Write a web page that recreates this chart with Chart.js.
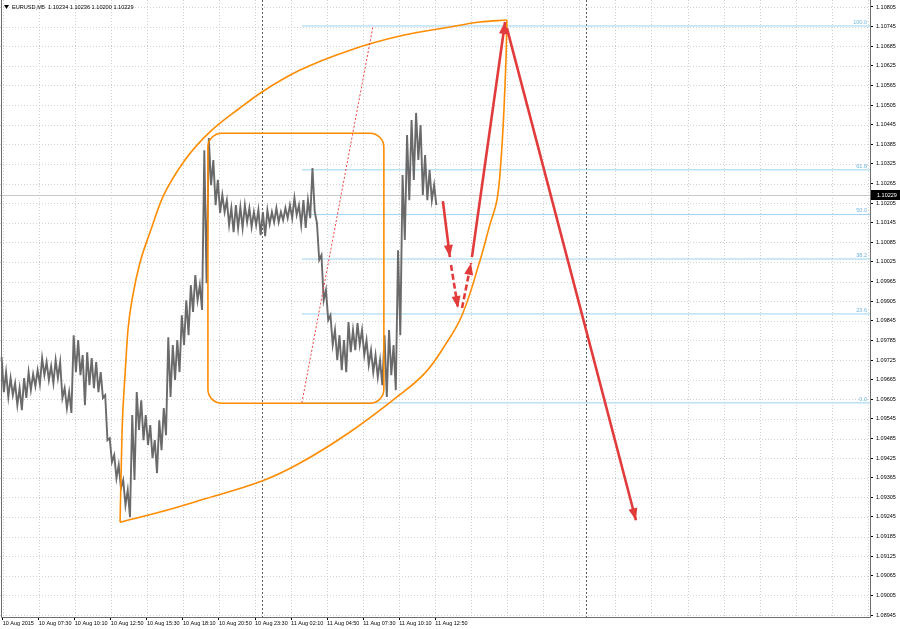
<!DOCTYPE html>
<html>
<head>
<meta charset="utf-8">
<script src="https://cdn.jsdelivr.net/npm/chart.js@4.4.1/dist/chart.umd.min.js"></script>
<style>
  html, body { margin: 0; padding: 0; background: #fff; }
  #wrap { width: 900px; height: 629px; position: relative; }
</style>
</head>
<body>
<div id="wrap"><canvas id="chart"></canvas></div>
<script>
// EURUSD M5, 10-11 Aug 2015. time = minutes since 10 Aug 2015 00:00
const symbolTitle = "EURUSD,M5";
const ohlc = [1.10234, 1.10236, 1.10200, 1.10229];
const bidPrice = 1.10229;

const startTime = 290; // 10 Aug 04:50
const barStep = 20;    // one sample per 20 minutes

const highs = [
  1.09734, 1.09688, 1.09670, 1.09654, 1.09639, 1.09670, 1.09688, 1.09682, 1.09694, 1.09731,
  1.09719, 1.09706, 1.09725, 1.09719, 1.09639, 1.09627, 1.09801, 1.09786, 1.09740, 1.09749,
  1.09731, 1.09719, 1.09688, 1.09618, 1.09486, 1.09434, 1.09404, 1.09358, 1.09327, 1.09557,
  1.09627, 1.09602, 1.09557, 1.09526, 1.09480, 1.09541, 1.09578, 1.09795, 1.09771, 1.09786,
  1.09862, 1.09908, 1.09954, 1.09985, 1.09954, 1.10367, 1.10404, 1.10337, 1.10276, 1.10230,
  1.10214, 1.10190, 1.10199, 1.10193, 1.10199, 1.10190, 1.10178, 1.10184, 1.10178, 1.10184,
  1.10178, 1.10190, 1.10178, 1.10190, 1.10199, 1.10221, 1.10199, 1.10214, 1.10214, 1.10312,
  1.10144, 1.10046, 1.09939, 1.09862, 1.09817, 1.09801, 1.09786, 1.09841, 1.09817, 1.09838,
  1.09817, 1.09786, 1.09755, 1.09740, 1.09725, 1.09801, 1.09817, 1.09771, 1.10061, 1.10291,
  1.10413, 1.10459, 1.10481, 1.10444, 1.10352, 1.10306, 1.10260
];
const lows = [
  1.09627, 1.09612, 1.09618, 1.09587, 1.09572, 1.09609, 1.09633, 1.09645, 1.09651, 1.09679,
  1.09664, 1.09654, 1.09670, 1.09609, 1.09578, 1.09563, 1.09688, 1.09679, 1.09587, 1.09648,
  1.09639, 1.09627, 1.09609, 1.09480, 1.09413, 1.09364, 1.09333, 1.09281, 1.09244, 1.09358,
  1.09511, 1.09480, 1.09465, 1.09425, 1.09379, 1.09449, 1.09495, 1.09612, 1.09664, 1.09688,
  1.09771, 1.09801, 1.09872, 1.09908, 1.09878, 1.09960, 1.10260, 1.10199, 1.10175, 1.10178,
  1.10138, 1.10116, 1.10129, 1.10129, 1.10147, 1.10132, 1.10138, 1.10107, 1.10104, 1.10141,
  1.10147, 1.10147, 1.10153, 1.10159, 1.10159, 1.10169, 1.10138, 1.10129, 1.10159, 1.10180,
  1.10031, 1.09908, 1.09847, 1.09771, 1.09725, 1.09694, 1.09688, 1.09749, 1.09755, 1.09771,
  1.09740, 1.09710, 1.09688, 1.09673, 1.09648, 1.09612, 1.09679, 1.09633, 1.09801, 1.10092,
  1.10214, 1.10276, 1.10337, 1.10230, 1.10214, 1.10214, 1.10199
];

// axis
const xMin = 278, xMax = 4140;
const xTickTimes = [290, 450, 610, 770, 930, 1090, 1250, 1410, 1570, 1730, 1890, 2050, 2210];
const xLabels = ["10 Aug 2015", "10 Aug 07:30", "10 Aug 10:10", "10 Aug 12:50", "10 Aug 15:30",
  "10 Aug 18:10", "10 Aug 20:50", "10 Aug 23:30", "11 Aug 02:10", "11 Aug 04:50",
  "11 Aug 07:30", "11 Aug 10:10", "11 Aug 12:50"];
const gridStep = 160;
const daySeparators = [1440, 2880];
const yMin = 1.08939, yMax = 1.108264;
const yTicks = [1.08945, 1.09005, 1.09065, 1.09125, 1.09185, 1.09245, 1.09305, 1.09365,
  1.09425, 1.09485, 1.09545, 1.09605, 1.09665, 1.09725, 1.09785, 1.09845, 1.09905, 1.09965,
  1.10025, 1.10085, 1.10145, 1.10205, 1.10265, 1.10325, 1.10385, 1.10445, 1.10505, 1.10565,
  1.10625, 1.10685, 1.10745, 1.10805];

// objects drawn on the chart
const upperArcTimes = [811, 820, 833, 846, 868, 899, 944, 1001, 1099, 1210, 1343, 1441, 1610, 1832, 2053, 2275, 2409, 2528];
const upperArcPrices = [1.09229, 1.09511, 1.09679, 1.09817, 1.09924, 1.10022, 1.10116, 1.10224, 1.10337, 1.10423,
  1.10496, 1.10545, 1.10612, 1.10673, 1.10716, 1.10744, 1.10759, 1.10765];
const lowerArcTimes = [811, 988, 1166, 1441, 1610, 1832, 2040, 2164, 2253, 2329, 2409, 2453, 2484, 2502, 2515, 2524, 2528];
const lowerArcPrices = [1.09229, 1.09260, 1.09296, 1.09355, 1.09410, 1.09505, 1.09612, 1.09685, 1.09770, 1.09862,
  1.10030, 1.10140, 1.10214, 1.10337, 1.10490, 1.10643, 1.10765];

const rectTimes = [1201, 1982];
const rectPrices = [1.09593, 1.10419];

const fibTimes = [1618, 1934];
const fibAnchorPrices = [1.09594, 1.10747];
const fibPrices = [1.09594, 1.09866, 1.10034, 1.10170, 1.10307, 1.10747];
const fibLabels = ["0.0", "23.6", "38.2", "50.0", "61.8", "100.0"];

const arrowTimes = [[2244, 2275], [2280, 2311], [2329, 2369], [2373, 2520], [2528, 3101]];
const arrowPrices = [[1.10211, 1.10040], [1.10016, 1.09884], [1.09884, 1.10022], [1.10040, 1.10759], [1.10741, 1.09235]];
const arrowDashed = [false, true, true, false, false];

const FONT = '"Liberation Sans", Arial, sans-serif';
const RED = "#e23b3b";
const ORANGE = "#ff8c00";
const FIB = "#9dd3ef";

function pairs(ts, ps) {
  return ts.map((t, i) => ({ x: t, y: ps[i] }));
}

// each sample is drawn as a high -> low stroke, joined into one jagged line
const pricePoints = [];
highs.forEach((h, i) => {
  const t = startTime + i * barStep;
  pricePoints.push({ x: t - 5, y: h }, { x: t + 5, y: lows[i] });
});

const datasets = [];

fibPrices.forEach((p, i) => {
  datasets.push({
    type: "line",
    label: "fib " + fibLabels[i],
    data: [{ x: fibTimes[0], y: p }, { x: xMax, y: p }],
    borderColor: FIB,
    borderWidth: 1,
    pointRadius: 0,
    order: 6,
  });
});

datasets.push({
  type: "line",
  label: symbolTitle,
  data: pricePoints,
  borderColor: "#6a6a6a",
  borderWidth: 1.9,
  pointRadius: 0,
  tension: 0,
  order: 4,
});

datasets.push({
  type: "line",
  label: "ellipse top",
  data: pairs(upperArcTimes, upperArcPrices),
  borderColor: ORANGE,
  borderWidth: 1.6,
  pointRadius: 0,
  cubicInterpolationMode: "monotone",
  order: 3,
});
datasets.push({
  type: "line",
  label: "ellipse bottom",
  data: pairs(lowerArcTimes, lowerArcPrices),
  borderColor: ORANGE,
  borderWidth: 1.6,
  pointRadius: 0,
  tension: 0.4,
  order: 3,
});

datasets.push({
  type: "line",
  label: "fib base",
  data: pairs(fibTimes, fibAnchorPrices),
  borderColor: "#f04040",
  borderWidth: 1,
  borderDash: [2, 2],
  pointRadius: 0,
  order: 2,
});

arrowTimes.forEach((ts, i) => {
  datasets.push({
    type: "line",
    label: "arrow " + (i + 1),
    data: pairs(ts, arrowPrices[i]),
    borderColor: RED,
    borderWidth: 2.6,
    borderDash: arrowDashed[i] ? [6, 3] : [],
    pointRadius: 0,
    arrow: true,
    order: 1,
  });
});

const drawings = {
  id: "drawings",
  beforeDatasetsDraw(chart) {
    const { ctx, chartArea: a, scales: { x, y } } = chart;
    ctx.save();
    ctx.lineWidth = 1;
    // dotted grid
    ctx.strokeStyle = "#d2d2d2";
    ctx.setLineDash([1, 2]);
    for (let t = xTickTimes[0]; t <= xMax; t += gridStep) {
      const px = Math.round(x.getPixelForValue(t)) + 0.5;
      ctx.beginPath(); ctx.moveTo(px, a.top); ctx.lineTo(px, a.bottom); ctx.stroke();
    }
    yTicks.forEach((v) => {
      const py = Math.round(y.getPixelForValue(v)) + 0.5;
      ctx.beginPath(); ctx.moveTo(a.left, py); ctx.lineTo(a.right, py); ctx.stroke();
    });
    // bid line
    ctx.setLineDash([]);
    ctx.strokeStyle = "#c8c8c8";
    const by = Math.round(y.getPixelForValue(bidPrice)) + 0.5;
    ctx.beginPath(); ctx.moveTo(a.left, by); ctx.lineTo(a.right, by); ctx.stroke();
    // day separators
    ctx.strokeStyle = "#5a5a5a";
    ctx.setLineDash([2, 2]);
    daySeparators.forEach((t) => {
      const px = Math.round(x.getPixelForValue(t)) + 0.5;
      ctx.beginPath(); ctx.moveTo(px, a.top); ctx.lineTo(px, a.bottom); ctx.stroke();
    });
    ctx.restore();
  },
  afterDatasetsDraw(chart) {
    const { ctx, scales: { x, y } } = chart;
    ctx.save();
    // rounded rectangle
    const x0 = x.getPixelForValue(rectTimes[0]), x1 = x.getPixelForValue(rectTimes[1]);
    const y0 = y.getPixelForValue(rectPrices[1]), y1 = y.getPixelForValue(rectPrices[0]);
    const r = 14;
    ctx.strokeStyle = ORANGE;
    ctx.lineWidth = 1.6;
    ctx.beginPath();
    ctx.moveTo(x0 + r, y0);
    ctx.arcTo(x1, y0, x1, y1, r);
    ctx.arcTo(x1, y1, x0, y1, r);
    ctx.arcTo(x0, y1, x0, y0, r);
    ctx.arcTo(x0, y0, x1, y0, r);
    ctx.closePath();
    ctx.stroke();
    // arrow heads
    chart.data.datasets.forEach((ds, i) => {
      if (!ds.arrow) return;
      const pts = chart.getDatasetMeta(i).data;
      const p = pts[pts.length - 2], q = pts[pts.length - 1];
      const ang = Math.atan2(q.y - p.y, q.x - p.x);
      const len = 12, w = 4.5;
      const bx = q.x - len * Math.cos(ang), by = q.y - len * Math.sin(ang);
      ctx.fillStyle = ds.borderColor;
      ctx.beginPath();
      ctx.moveTo(q.x, q.y);
      ctx.lineTo(bx + w * Math.sin(ang), by - w * Math.cos(ang));
      ctx.lineTo(bx - w * Math.sin(ang), by + w * Math.cos(ang));
      ctx.closePath();
      ctx.fill();
    });
    ctx.restore();
  },
  afterDraw(chart) {
    const { ctx, chartArea: a, scales: { y } } = chart;
    ctx.save();
    // frame
    ctx.strokeStyle = "#6e6e6e";
    ctx.lineWidth = 1;
    ctx.beginPath();
    ctx.moveTo(a.left + 1.5, a.top);
    ctx.lineTo(a.left + 1.5, a.bottom + 0.5);
    ctx.lineTo(a.right + 0.5, a.bottom + 0.5);
    ctx.lineTo(a.right + 0.5, a.top);
    ctx.stroke();
    // fib labels
    ctx.font = "5.5px " + FONT;
    ctx.fillStyle = "#6fb6e0";
    ctx.textAlign = "right";
    ctx.textBaseline = "bottom";
    fibPrices.forEach((p, i) => {
      ctx.fillText(fibLabels[i], a.right - 3, y.getPixelForValue(p) - 1);
    });
    // title
    ctx.fillStyle = "#000";
    ctx.beginPath();
    ctx.moveTo(4, 5); ctx.lineTo(9, 5); ctx.lineTo(6.5, 9); ctx.closePath(); ctx.fill();
    ctx.textAlign = "left";
    ctx.textBaseline = "middle";
    ctx.font = "5.6px " + FONT;
    ctx.fillText(symbolTitle + "  " + ohlc.map((v) => v.toFixed(5)).join(" "), 12, 7.5);
    // bid price box
    const by = Math.round(y.getPixelForValue(bidPrice));
    ctx.fillStyle = "#000";
    ctx.fillRect(a.right + 1, by - 5, 900 - a.right, 10);
    ctx.fillStyle = "#fff";
    ctx.font = "5.5px " + FONT;
    ctx.fillText(bidPrice.toFixed(5), a.right + 7, by + 0.5);
    ctx.restore();
  },
};

new Chart(document.getElementById("chart"), {
  type: "line",
  data: { datasets },
  options: {
    responsive: true,
    maintainAspectRatio: false,
    animation: false,
    devicePixelRatio: 1,
    layout: { padding: 0 },
    plugins: { legend: { display: false }, tooltip: { enabled: false }, title: { display: false } },
    scales: {
      x: {
        type: "linear",
        position: "bottom",
        min: xMin,
        max: xMax,
        offset: false,
        afterBuildTicks: (scale) => { scale.ticks = xTickTimes.map((v) => ({ value: v })); },
        afterFit: (scale) => { scale.height = 12; scale.paddingLeft = 0; scale.paddingRight = 0; },
        grid: { offset: false, drawOnChartArea: false, drawTicks: true, tickLength: 3, tickColor: "#000" },
        border: { display: false },
        ticks: {
          autoSkip: false,
          maxRotation: 0,
          align: "start",
          padding: 0,
          color: "#000",
          font: { family: FONT, size: 5.5 },
          callback: (v, i) => xLabels[i],
        },
      },
      y: {
        type: "linear",
        position: "right",
        min: yMin,
        max: yMax,
        afterBuildTicks: (scale) => { scale.ticks = yTicks.map((v) => ({ value: v })); },
        afterFit: (scale) => { scale.width = 30; scale.paddingTop = 0; scale.paddingBottom = 0; },
        grid: { drawOnChartArea: false, drawTicks: true, tickLength: 3, tickColor: "#000" },
        border: { display: false },
        ticks: {
          autoSkip: false,
          padding: 3,
          color: "#000",
          font: { family: FONT, size: 5.5 },
          callback: (v) => Number(v).toFixed(5),
        },
      },
    },
  },
  plugins: [drawings],
});
</script>
</body>
</html>
